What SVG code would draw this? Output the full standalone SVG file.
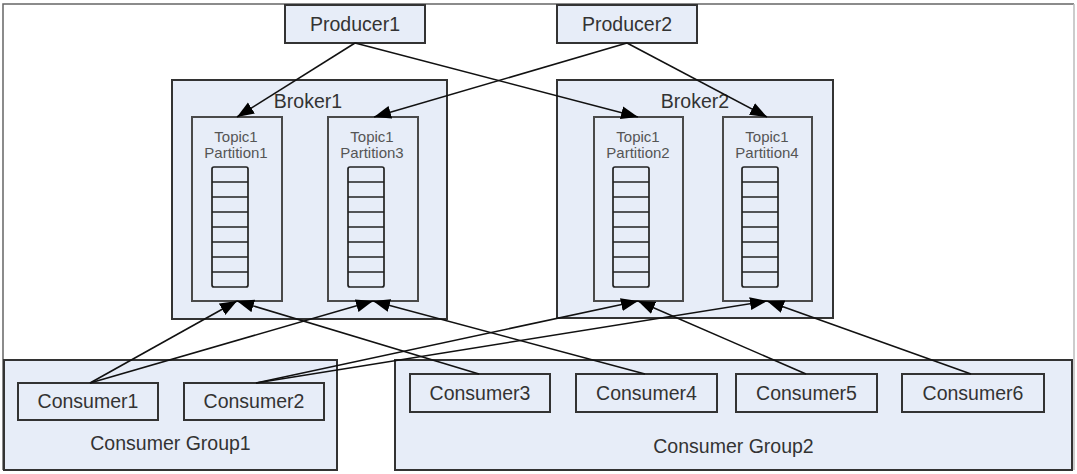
<svg xmlns="http://www.w3.org/2000/svg" width="1077" height="474" viewBox="0 0 1077 474">
<defs>
<style>
.box{fill:#e7edf8;stroke:#333;stroke-width:2}
.part{fill:#e7edf8;stroke:#4a4a4a;stroke-width:2}
.stack{fill:#e7edf8;stroke:#222;stroke-width:1.7}
.cell{stroke:#222;stroke-width:1.7}
.t{font-family:"Liberation Sans",Arial,sans-serif;font-size:19.5px;fill:#333;text-anchor:middle}
.ts{font-family:"Liberation Sans",Arial,sans-serif;font-size:15px;fill:#555;text-anchor:middle}
.c{stroke:#111;stroke-width:1.6;fill:none;marker-end:url(#ah)}
</style>
<marker id="ah" markerUnits="userSpaceOnUse" markerWidth="18" markerHeight="14" refX="17" refY="7" orient="auto">
<path d="M0,0.5 L17,7 L0,13.5 z" fill="#000"/>
</marker>
<g id="stk">
<rect class="stack" x="0" y="0" width="36" height="120" rx="2"/>
<path class="cell" d="M0,15H36M0,30H36M0,45H36M0,60H36M0,75H36M0,90H36M0,105H36"/>
</g>
</defs>
<rect width="1077" height="474" fill="#fff"/>
<g id="frame">
<path d="M3,470V4H1074" fill="none" stroke="#666" stroke-width="1.5"/>
<path d="M1074,4V470" fill="none" stroke="#bbb" stroke-width="1.5"/>
</g>
<g id="group1">
<rect class="box" x="4" y="360" width="333" height="110"/>
<text class="t" x="170.5" y="450">Consumer Group1</text>
</g>
<g id="group2">
<rect class="box" x="395" y="360" width="677" height="110"/>
<text class="t" x="733.5" y="453">Consumer Group2</text>
</g>
<g id="broker1">
<rect class="box" x="172" y="80" width="275" height="239"/>
<text class="t" x="308" y="108">Broker1</text>
</g>
<g id="broker2">
<rect class="box" x="557" y="80" width="276" height="238"/>
<text class="t" x="695" y="108">Broker2</text>
</g>
<g id="partition1">
<rect class="part" x="192" y="117" width="90" height="184"/>
<text class="ts" x="236" y="142">Topic1</text>
<text class="ts" x="236" y="158">Partition1</text>
<use href="#stk" x="212" y="167"/>
</g>
<g id="partition3">
<rect class="part" x="328" y="117" width="90" height="184"/>
<text class="ts" x="372" y="142">Topic1</text>
<text class="ts" x="372" y="158">Partition3</text>
<use href="#stk" x="348" y="167"/>
</g>
<g id="partition2">
<rect class="part" x="594" y="117" width="89" height="184"/>
<text class="ts" x="638" y="142">Topic1</text>
<text class="ts" x="638" y="158">Partition2</text>
<use href="#stk" x="613" y="167"/>
</g>
<g id="partition4">
<rect class="part" x="723" y="117" width="89" height="184"/>
<text class="ts" x="767" y="142">Topic1</text>
<text class="ts" x="767" y="158">Partition4</text>
<use href="#stk" x="742" y="167"/>
</g>
<g id="producer1">
<rect class="box" x="285" y="5" width="140" height="38"/>
<text class="t" x="355" y="31">Producer1</text>
</g>
<g id="producer2">
<rect class="box" x="557" y="5" width="140" height="38"/>
<text class="t" x="627" y="31">Producer2</text>
</g>
<g id="consumer1">
<rect class="box" x="18" y="383" width="140" height="37"/>
<text class="t" x="88" y="408">Consumer1</text>
</g>
<g id="consumer2">
<rect class="box" x="184" y="383" width="140" height="37"/>
<text class="t" x="254" y="408">Consumer2</text>
</g>
<g id="consumer3">
<rect class="box" x="410" y="374" width="140" height="38"/>
<text class="t" x="480" y="400">Consumer3</text>
</g>
<g id="consumer4">
<rect class="box" x="576" y="374" width="141" height="38"/>
<text class="t" x="646.5" y="400">Consumer4</text>
</g>
<g id="consumer5">
<rect class="box" x="736" y="374" width="141" height="38"/>
<text class="t" x="806.5" y="400">Consumer5</text>
</g>
<g id="consumer6">
<rect class="box" x="902" y="374" width="142" height="38"/>
<text class="t" x="973" y="400">Consumer6</text>
</g>
<g id="connectors">
<path class="c" d="M355,43L237,117"/>
<path class="c" d="M355,43L638,117"/>
<path class="c" d="M627,43L374,117"/>
<path class="c" d="M627,43L767,117"/>
<path class="c" d="M90,383L237,301"/>
<path class="c" d="M90,383L373,301"/>
<path class="c" d="M256,383L638,301"/>
<path class="c" d="M256,383L767,301"/>
<path class="c" d="M479,374L237,301"/>
<path class="c" d="M645,374L373,301"/>
<path class="c" d="M806,374L638,301"/>
<path class="c" d="M971,374L767,301"/>
</g>
</svg>
